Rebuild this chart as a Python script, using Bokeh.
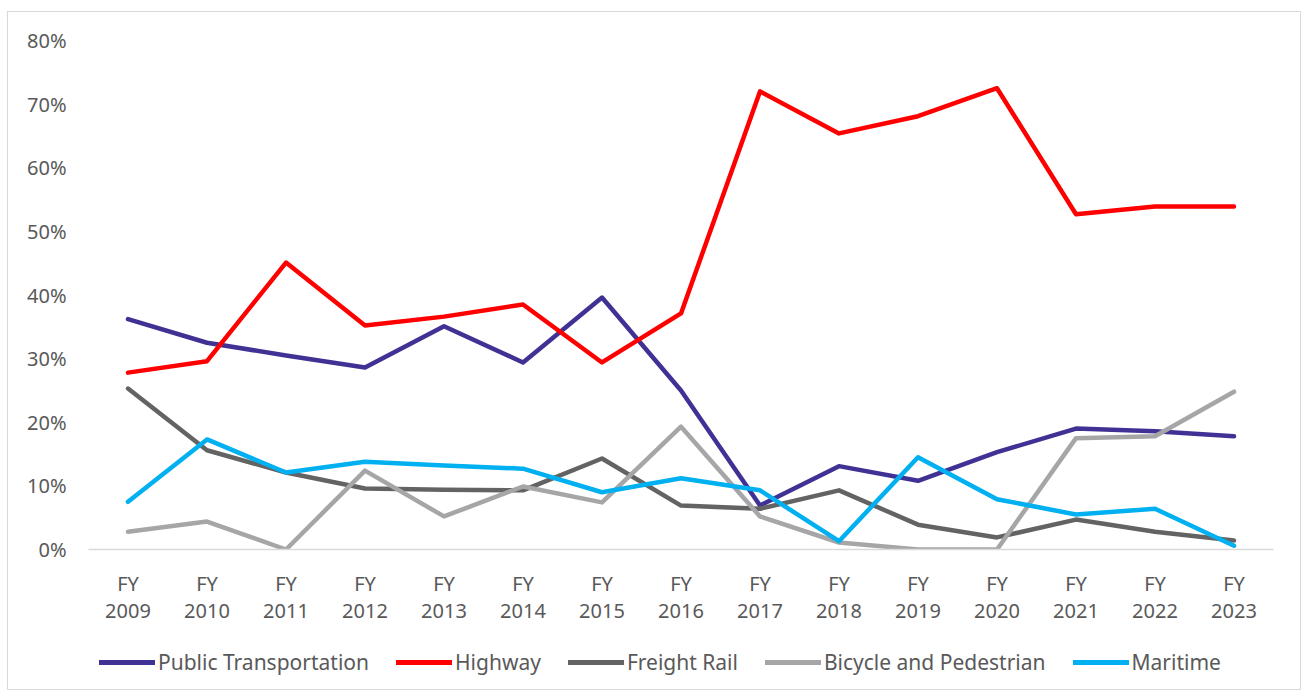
from bokeh.plotting import figure
from bokeh.layouts import column
from bokeh.models import (ColumnDataSource, FixedTicker, NumeralTickFormatter,
                          Legend, LegendItem)
from bokeh.embed import file_html
from bokeh.resources import INLINE

years = ["2009", "2010", "2011", "2012", "2013", "2014", "2015", "2016",
         "2017", "2018", "2019", "2020", "2021", "2022", "2023"]
tick_labels = ["FY\n" + y for y in years]

public_transportation = [36.2, 32.5, 30.5, 28.6, 35.1, 29.4, 39.6, 25.0, 6.9, 13.1, 10.8, 15.3, 19.0, 18.6, 17.8]
highway = [27.8, 29.6, 45.1, 35.2, 36.6, 38.5, 29.4, 37.1, 72.0, 65.4, 68.1, 72.5, 52.7, 53.9, 53.9]
freight_rail = [25.3, 15.6, 12.1, 9.6, 9.4, 9.3, 14.3, 6.9, 6.4, 9.3, 3.9, 1.9, 4.7, 2.8, 1.4]
bicycle_pedestrian = [2.8, 4.4, 0.0, 12.4, 5.2, 9.9, 7.4, 19.3, 5.2, 1.1, 0.0, 0.0, 17.5, 17.8, 24.8]
maritime = [7.5, 17.3, 12.1, 13.8, 13.2, 12.7, 9.0, 11.2, 9.3, 1.3, 14.5, 7.9, 5.5, 6.4, 0.6]

series = [
    ("Public Transportation", public_transportation, "#403294"),
    ("Highway", highway, "#ff0000"),
    ("Freight Rail", freight_rail, "#636363"),
    ("Bicycle and Pedestrian", bicycle_pedestrian, "#a6a6a8"),
    ("Maritime", maritime, "#00b0f0"),
]

FONT = "Noto Sans"
TXT = "#595959"

p = figure(width=1292, height=628, output_backend="svg", toolbar_location=None,
           x_range=(-0.5, len(years) - 0.5), y_range=(0, 0.8),
           min_border_left=80, min_border_right=27, min_border_top=28,
           min_border_bottom=91)
p.outline_line_color = None
p.xgrid.grid_line_color = None
p.ygrid.grid_line_color = None

xs = list(range(len(years)))
for name, vals, color in series:
    src = ColumnDataSource(dict(x=xs, y=[v / 100 for v in vals]))
    p.line("x", "y", source=src, line_color=color, line_width=4.5,
           line_cap="round", line_join="round")

# y axis
p.yaxis.ticker = FixedTicker(ticks=[i / 10 for i in range(9)])
p.yaxis.formatter = NumeralTickFormatter(format="0%")
p.yaxis.axis_line_color = None
p.yaxis.major_tick_line_color = None
p.yaxis.minor_tick_line_color = None
p.yaxis.major_tick_out = 0
p.yaxis.major_label_standoff = 22
p.yaxis.major_label_text_font = FONT
p.yaxis.major_label_text_font_size = "20px"
p.yaxis.major_label_text_color = TXT

# x axis
p.xaxis.ticker = FixedTicker(ticks=xs)
p.xaxis.major_label_overrides = {i: lab for i, lab in enumerate(tick_labels)}
p.xaxis.axis_line_color = "#d9d9d9"
p.xaxis.axis_line_width = 1.5
p.xaxis.major_tick_line_color = None
p.xaxis.minor_tick_line_color = None
p.xaxis.major_tick_out = 0
p.xaxis.major_label_standoff = 20
p.xaxis.major_label_text_font = FONT
p.xaxis.major_label_text_font_size = "20px"
p.xaxis.major_label_text_color = TXT
p.xaxis.major_label_text_line_height = 1.0

# legend strip
lg = figure(width=1292, height=49, output_backend="svg", toolbar_location=None,
            x_range=(0, 1), y_range=(0, 1), min_border=0)
lg.axis.visible = False
lg.xgrid.grid_line_color = None
lg.ygrid.grid_line_color = None
lg.outline_line_color = None
items = []
for name, vals, color in series:
    r = lg.line([-10, -9], [-10, -9], line_color=color, line_width=5, line_cap="round")
    items.append(LegendItem(label=name, renderers=[r]))
legend = Legend(items=items, orientation="horizontal", location=(11, 13),
                glyph_width=56, glyph_height=20, label_standoff=3, spacing=27,
                label_text_font=FONT, label_text_font_size="21px",
                label_text_color=TXT, border_line_color=None,
                background_fill_alpha=0, margin=0, padding=0)
lg.add_layout(legend)

layout = column(p, lg, spacing=0)
layout.styles = {"border": "1px solid #d9d9d9", "margin-left": "7px", "margin-top": "11px"}

open("out.html", "w").write(file_html(layout, INLINE))
